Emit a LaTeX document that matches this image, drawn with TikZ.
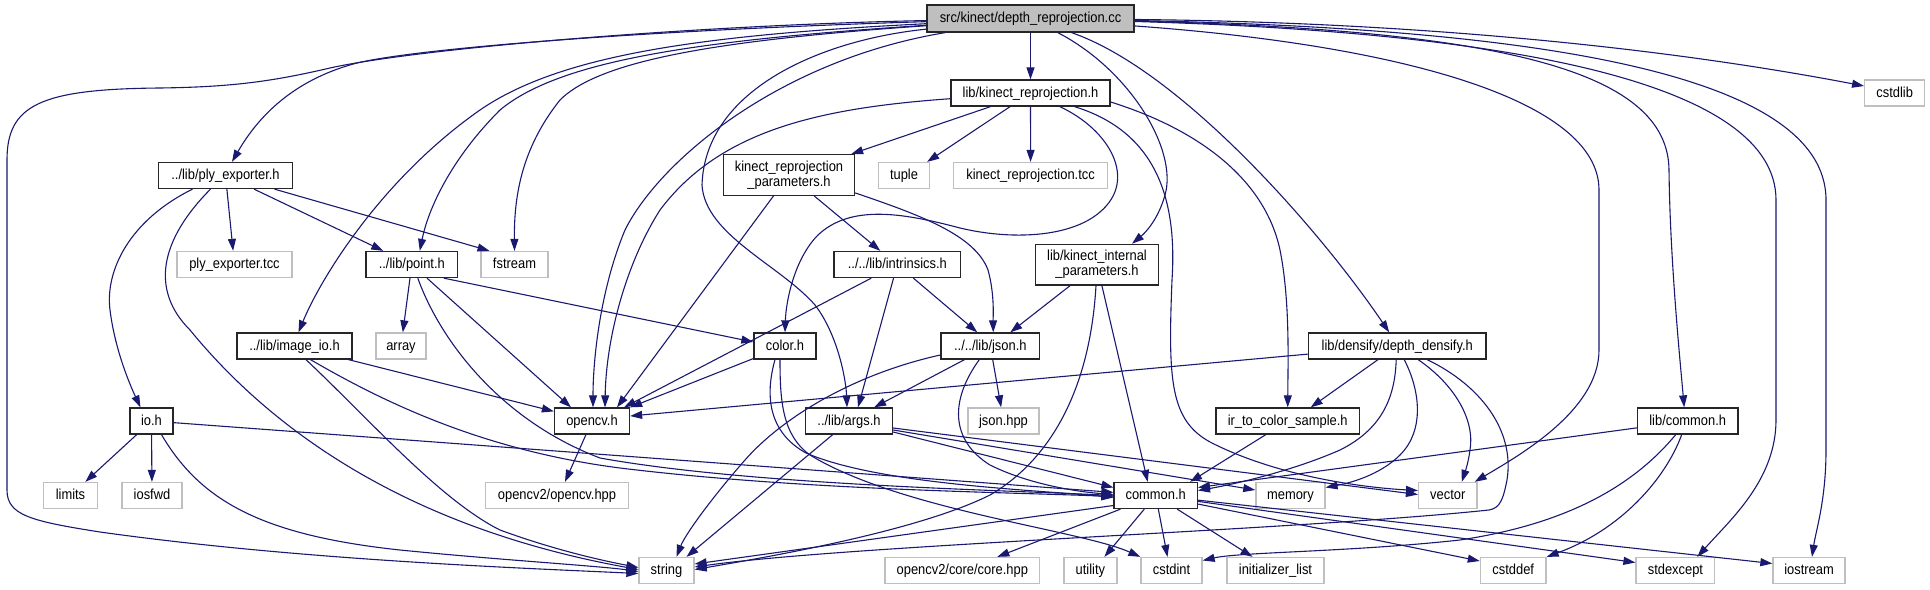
\documentclass[tikz,border=0pt]{standalone}
\usepackage{fontspec}
\newfontfamily\gfont{Liberation Sans}[FakeStretch=0.89]
\usetikzlibrary{arrows.meta}
\definecolor{edgec}{HTML}{191970}
\definecolor{grayb}{HTML}{BFBFBF}
\definecolor{srcfill}{HTML}{BFBFBF}
\tikzset{
 box/.style={rectangle, inner sep=0pt, line width=1.3pt, minimum height=26pt, font=\gfont\fontsize{14.5}{15}\selectfont, text height=11pt, text depth=2.5pt},
 nb/.style={box, draw=black!85, fill=white},
 ng/.style={box, draw=grayb, fill=white},
 nbtwo/.style={rectangle, inner sep=0pt, line width=1.3pt, draw=black!85, fill=white, minimum height=40.5pt, align=center, font=\gfont\fontsize{14.5}{15}\selectfont},
 dep/.style={draw=edgec, line width=1.1pt, -{Triangle[length=12pt,width=8pt]}},
}
\begin{document}
\begin{tikzpicture}[x=1pt,y=-1pt]
\useasboundingbox (0,0) rectangle (1930,589);
% nodes
\node[nb, fill=srcfill, minimum width=207pt, minimum height=27pt] (src) at (1030.5,18.5) {src/kinect/depth\_reprojection.cc};
\node[nb, minimum width=159pt] (krep) at (1030.5,93) {lib/kinect\_reprojection.h};
\node[ng, minimum width=60pt] (cstdlib) at (1894.7,93) {cstdlib};
\node[nb, minimum width=134pt] (ply) at (225.5,175.5) {../lib/ply\_exporter.h};
\node[nbtwo, minimum width=131pt] (krp) at (789,175) {kinect\_reprojection\\\_parameters.h};
\node[ng, minimum width=51pt] (tuple) at (904,175.5) {tuple};
\node[ng, minimum width=154pt] (ktcc) at (1030.6,175.5) {kinect\_reprojection.tcc};
\node[ng, minimum width=115pt] (plytcc) at (234.5,264.5) {ply\_exporter.tcc};
\node[nb, minimum width=91.6pt] (point) at (411.8,264.5) {../lib/point.h};
\node[ng, minimum width=67pt] (fstream) at (514.5,264.5) {fstream};
\node[nb, minimum width=126.7pt] (intr) at (897.3,264.5) {../../lib/intrinsics.h};
\node[nbtwo, minimum width=123pt] (kip) at (1097,264.6) {lib/kinect\_internal\\\_parameters.h};
\node[nb, minimum width=115pt] (imgio) at (294.5,346) {../lib/image\_io.h};
\node[ng, minimum width=50pt] (array) at (401,346) {array};
\node[nb, minimum width=62pt] (color) at (785,346) {color.h};
\node[nb, minimum width=98.7pt] (json) at (990.3,346) {../../lib/json.h};
\node[nb, minimum width=177.6pt] (dd) at (1397.2,346) {lib/densify/depth\_densify.h};
\node[nb, minimum width=43pt] (ioh) at (151.5,421) {io.h};
\node[nb, minimum width=75pt] (opencv) at (592,421) {opencv.h};
\node[nb, minimum width=87pt] (args) at (849,421) {../lib/args.h};
\node[ng, minimum width=71pt] (jsonhpp) at (1003.5,421) {json.hpp};
\node[nb, minimum width=143.5pt] (ir) at (1287.7,421) {ir\_to\_color\_sample.h};
\node[nb, minimum width=100.5pt] (libcommon) at (1687.7,421) {lib/common.h};
\node[ng, minimum width=53.6pt] (limits) at (70.5,495.5) {limits};
\node[ng, minimum width=60pt] (iosfwd) at (152,495.5) {iosfwd};
\node[ng, minimum width=143pt] (cvhpp) at (557,495.5) {opencv2/opencv.hpp};
\node[nb, minimum width=83.3pt] (common) at (1155.7,495.5) {common.h};
\node[ng, minimum width=69pt] (memory) at (1290.4,495.5) {memory};
\node[ng, minimum width=58.5pt] (vector) at (1447.8,495.5) {vector};
\node[ng, minimum width=55pt] (string) at (666.5,570.5) {string};
\node[ng, minimum width=154.7pt] (corehpp) at (962.3,570.5) {opencv2/core/core.hpp};
\node[ng, minimum width=53pt] (utility) at (1090.4,570.5) {utility};
\node[ng, minimum width=61pt] (cstdint) at (1171.5,570.5) {cstdint};
\node[ng, minimum width=97pt] (initlist) at (1275.5,570.5) {initializer\_list};
\node[ng, minimum width=65.6pt] (cstddef) at (1513.2,570.5) {cstddef};
\node[ng, minimum width=78.7pt] (stdexcept) at (1675.4,570.5) {stdexcept};
\node[ng, minimum width=72pt] (iostream) at (1809,570.5) {iostream};
% edges from src
\draw[dep] (src) .. controls (700,25) and (420,48) .. (330,68) .. controls (270,82) and (230,87) .. (160,88) .. controls (40,89) and (7,105) .. (7,160) -- (7,490) .. controls (7,515) and (30,521) .. (100,532) .. controls (300,560) and (520,568) .. ([yshift=-3]string.west);
\draw[dep] (src) .. controls (650,30) and (420,48) .. (357,63) .. controls (300,78) and (262,110) .. ([xshift=6.5]ply.north);
\draw[dep] (src) .. controls (700,35) and (560,55) .. (480,110) .. controls (380,180) and (320,280) .. ([xshift=4]imgio.north);
\draw[dep] (src) .. controls (700,40) and (560,60) .. (500,110) .. controls (450,160) and (428,210) .. ([xshift=8]point.north);
\draw[dep] (src) .. controls (720,40) and (600,60) .. (560,100) .. controls (520,150) and (514,200) .. (fstream.north);
\draw[dep] (src) .. controls (780,60) and (660,160) .. (625,230) .. controls (600,290) and (593,360) .. ([xshift=1]opencv.north);
\draw[dep] (src) -- (krep);
\draw[dep] (src) .. controls (820,40) and (705,90) .. (702,185) .. controls (705,235) and (780,265) .. (815,305) .. controls (838,335) and (846,380) .. ([xshift=-2]args.north);
\draw[dep] (src) .. controls (1130,70) and (1178,150) .. (1165,195) .. controls (1158,220) and (1145,233) .. ([xshift=35]kip.north);
\draw[dep] (src) .. controls (1180,70) and (1320,230) .. ([xshift=-8]dd.north);
\draw[dep] (src) .. controls (1400,45) and (1599,100) .. (1599,190) -- (1599,350) .. controls (1599,410) and (1520,455) .. ([xshift=-3]vector.north east);
\draw[dep] (src) .. controls (1500,30) and (1668,70) .. (1669,170) .. controls (1670,260) and (1680,360) .. ([xshift=-3.5]libcommon.north);
\draw[dep] (src) .. controls (1500,32) and (1776,80) .. (1776,200) -- (1776,420) .. controls (1776,480) and (1730,520) .. ([xshift=22]stdexcept.north);
\draw[dep] (src) .. controls (1520,28) and (1826,70) .. (1826,200) -- (1826,450) .. controls (1826,500) and (1816,530) .. ([xshift=3]iostream.north);
\draw[dep] (src) .. controls (1400,22) and (1650,45) .. ([yshift=7]cstdlib.west);
% edges from krep
\draw[dep] (krep) -- ([xshift=-4]krp.north east);
\draw[dep] (krep) -- ([xshift=-3]tuple.north east);
\draw[dep] (krep) -- (ktcc);
\draw[dep] (krep) .. controls (820,108) and (720,130) .. (660,210) .. controls (625,265) and (606,340) .. ([xshift=13]opencv.north);
\draw[dep] (krep) .. controls (1110,130) and (1138,180) .. (1100,212) .. controls (1070,238) and (1010,240) .. (960,228) .. controls (900,212) and (850,205) .. (818,235) .. controls (795,258) and (786,300) .. (color.north);
\draw[dep] (krep) .. controls (1150,130) and (1178,190) .. (1172,280) .. controls (1168,380) and (1170,420) .. (1210,442) .. controls (1280,478) and (1370,488) .. ([yshift=5]vector.west);
\draw[dep] ([yshift=-9]krep.east) .. controls (1200,130) and (1265,180) .. (1280,250) .. controls (1290,300) and (1288,360) .. (ir.north);
% ply
\draw[dep] (ply) -- (plytcc);
\draw[dep] (ply) -- (point);
\draw[dep] ([xshift=49]ply.south) -- ([xshift=-25]fstream.north);
\draw[dep] ([xshift=-33]ply.south) .. controls (130,220) and (105,270) .. (110,310) .. controls (115,350) and (130,385) .. ([xshift=-11]ioh.north);
\draw[dep] ([xshift=-15]ply.south) .. controls (160,240) and (150,290) .. (190,330) .. controls (280,440) and (420,530) .. ([yshift=1]string.west);
% point
\draw[dep] (point) -- (array);
\draw[dep] (point) -- ([xshift=-21]opencv.north);
\draw[dep] ([xshift=32]point.south) -- ([yshift=4]color.west);
\draw[dep] ([xshift=6]point.south) .. controls (440,340) and (500,420) .. (600,458) .. controls (750,485) and (1000,490) .. (common.west);
% image_io
\draw[dep] (imgio) -- (opencv);
\draw[dep] ([xshift=11.5]imgio.south) .. controls (370,420) and (440,500) .. (500,530) .. controls (560,552) and (610,562) .. ([yshift=3]string.west);
\draw[dep] ([xshift=16]imgio.south) .. controls (380,400) and (480,450) .. (620,468) .. controls (800,490) and (1000,492) .. ([yshift=-1]common.west);
% krp
\draw[dep] (krp) -- ([xshift=25]opencv.north);
\draw[dep] (krp) -- ([xshift=-17]intr.north);
\draw[dep] ([yshift=3]krp.south east) .. controls (920,215) and (975,235) .. (988,270) .. controls (995,295) and (993,320) .. ([xshift=3]json.north);
% intr
\draw[dep] (intr) -- ([xshift=32]opencv.north);
\draw[dep] (intr) -- ([xshift=9]args.north);
\draw[dep] (intr) -- ([xshift=-13]json.north);
% kip
\draw[dep] (kip) -- ([xshift=20]json.north);
\draw[dep] (kip) -- ([xshift=-8]common.north);
\draw[dep] ([xshift=-1]kip.south) .. controls (1090,390) and (1050,460) .. (990,495) .. controls (920,530) and (780,555) .. ([yshift=1]string.east);
% json
\draw[dep] (json) -- ([xshift=-19]args.north east);
\draw[dep] (json) -- (jsonhpp);
\draw[dep] ([xshift=-11]json.south) .. controls (950,400) and (950,440) .. (990,465) .. controls (1030,485) and (1080,492) .. ([yshift=1]common.west);
\draw[dep] ([yshift=-9]json.west) .. controls (850,375) and (780,420) .. (745,460) .. controls (710,500) and (685,535) .. ([xshift=10]string.north);
% color
\draw[dep] (color) -- (opencv.north east);
\draw[dep] ([xshift=-10]color.south) .. controls (765,395) and (768,432) .. (806,453) .. controls (880,485) and (1040,490) .. ([yshift=-2]common.west);
\draw[dep] ([xshift=-5]color.south) .. controls (780,400) and (782,435) .. (810,455) .. controls (900,510) and (1080,530) .. (cstdint.north west);
% args
\draw[dep] (args) -- ([xshift=20]string.north);
\draw[dep] ([yshift=-11]args.east) -- ([yshift=8]common.west);
\draw[dep] ([yshift=-9]args.east) -- ([yshift=5.5]memory.west);
\draw[dep] ([yshift=-7]args.east) -- ([yshift=1]vector.west);
% ir
\draw[dep] (ir) -- ([xshift=-8]common.north east);
% dd
\draw[dep] (dd) -- ([yshift=5]opencv.east);
\draw[dep] (dd) -- ([xshift=23]ir.north);
\draw[dep] ([xshift=-1]dd.south) .. controls (1395,400) and (1380,430) .. (1340,450) .. controls (1290,472) and (1230,485) .. ([yshift=5]common.east);
\draw[dep] ([xshift=7]dd.south) .. controls (1420,390) and (1425,430) .. (1400,455) .. controls (1380,475) and (1350,483) .. ([yshift=8]memory.east);
\draw[dep] ([xshift=21]dd.south) .. controls (1455,385) and (1475,420) .. (1470,450) .. controls (1468,465) and (1464,475) .. ([xshift=14]vector.north);
\draw[dep] ([xshift=30]dd.south) .. controls (1480,385) and (1515,430) .. (1507,480) .. controls (1503,500) and (1500,508) .. (1489,510) .. controls (1300,530) and (850,545) .. ([yshift=3.5]string.east);
% libcommon
\draw[dep] (libcommon) -- ([yshift=8]common.east);
\draw[dep] ([xshift=-12]libcommon.south) .. controls (1630,490) and (1560,525) .. (1460,540) .. controls (1350,552) and (1240,552) .. ([yshift=10]cstdint.east);
\draw[dep] ([xshift=-6]libcommon.south) .. controls (1665,480) and (1620,530) .. (cstddef.north east);
% common
\draw[dep] ([yshift=-10]common.west) -- ([yshift=6.5]string.east);
\draw[dep] (common) -- ([xshift=35]corehpp.north);
\draw[dep] (common) -- ([xshift=14]utility.north);
\draw[dep] (common) -- ([xshift=-4]cstdint.north);
\draw[dep] (common) -- ([xshift=-23]initlist.north);
\draw[dep] (common) -- ([yshift=9.5]cstddef.west);
\draw[dep] (common) -- ([yshift=8]stdexcept.west);
\draw[dep] (common) -- ([yshift=7]iostream.west);
% io.h
\draw[dep] (ioh) -- (limits);
\draw[dep] (ioh) -- (iosfwd);
\draw[dep] (ioh) -- (common);
\draw[dep] ([xshift=10]ioh.south) .. controls (200,500) and (260,535) .. (400,550) .. controls (500,560) and (600,566) .. ([yshift=-1]string.west);
% opencv
\draw[dep] (opencv) -- ([xshift=8]cvhpp.north);
\end{tikzpicture}
\end{document}
